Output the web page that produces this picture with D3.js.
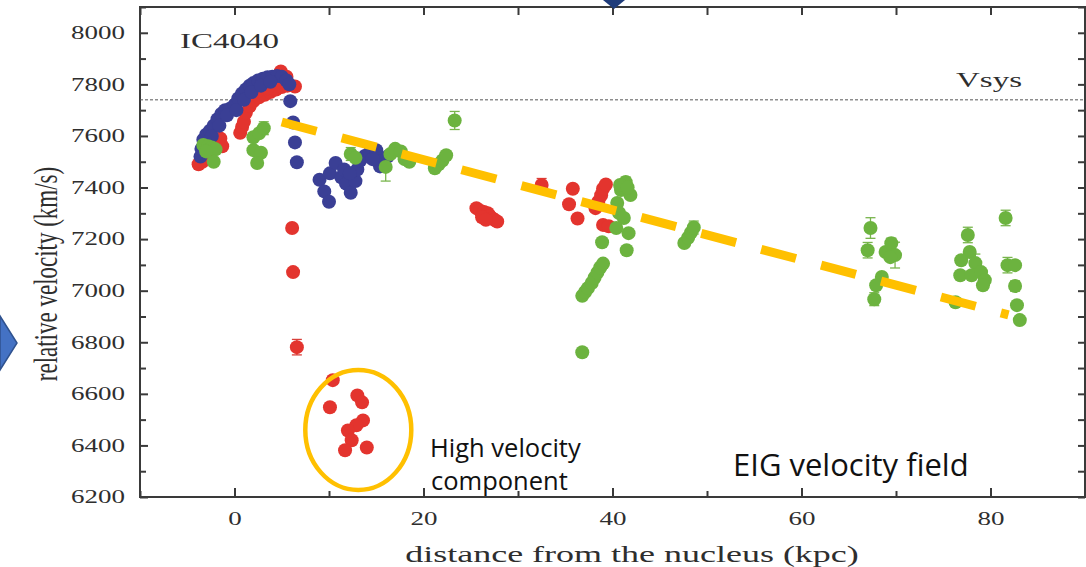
<!DOCTYPE html>
<html>
<head>
<meta charset="utf-8">
<script src="https://cdn.jsdelivr.net/npm/d3@7/dist/d3.min.js"></script>
<style>
  body { margin: 0; background: #ffffff; }
  svg { display: block; }
  .tick text { font-family: "Liberation Serif", serif; font-size: 18px; fill: #2e2e2e; }
  .tick line { stroke: #3a3a3a; stroke-width: 2; }
</style>
</head>
<body>
<div class="chart"></div>
<script>
// Data: [distance kpc, velocity km/s]
var blueData = [
  [-3.6, 7520], [-3.5, 7550], [-3.3, 7585], [-3.0, 7605], [-2.6, 7620], [-2.2, 7640],
  [-1.8, 7665], [-1.4, 7685], [-1.0, 7700], [-0.5, 7705], [0.0, 7720], [0.4, 7745],
  [0.8, 7765], [1.2, 7780], [1.6, 7795], [2.0, 7805], [2.5, 7815], [3.0, 7822],
  [3.5, 7828], [4.0, 7830], [4.5, 7832], [5.0, 7830], [5.5, 7815], [5.8, 7800],
  [-3.2, 7560], [-2.4, 7600], [-1.6, 7640], [-0.8, 7680], [0.2, 7700], [1.0, 7740],
  [1.8, 7770], [2.8, 7795], [3.8, 7810],
  [5.9, 7735], [6.2, 7652], [6.4, 7575], [6.6, 7498],
  [9.0, 7430], [9.5, 7385], [10.0, 7345], [10.1, 7455], [10.7, 7495], [11.3, 7440],
  [11.8, 7415], [12.3, 7380], [12.8, 7425], [13.0, 7470], [13.3, 7505], [13.8, 7522],
  [14.3, 7535], [15.0, 7545], [15.4, 7482], [15.8, 7505], [16.2, 7520], [11.6, 7470],
  [12.2, 7455], [14.6, 7510]
];

var redData = [
  [-3.8, 7490], [-3.4, 7500], [-3.0, 7515], [-2.6, 7535], [-2.3, 7555], [-1.9, 7575],
  [-1.5, 7590], [-1.3, 7560], [-2.8, 7570], [0.6, 7612], [0.8, 7635], [1.0, 7655],
  [1.2, 7690], [1.6, 7715], [2.0, 7735], [2.6, 7750], [3.2, 7760], [3.8, 7770],
  [4.4, 7780], [5.0, 7790], [5.6, 7795], [6.4, 7792], [4.9, 7850], [5.5, 7830],
  [2.5, 7775], [3.5, 7785],
  [6.1, 7243], [6.2, 7072], [6.6, 6781],
  [10.4, 6653], [10.1, 6548], [13.0, 6594], [13.5, 6567], [13.6, 6497], [12.9, 6478],
  [12.0, 6458], [12.4, 6420], [11.7, 6381], [14.0, 6392],
  [25.6, 7320], [26.0, 7310], [26.4, 7305], [26.8, 7300], [27.0, 7290], [27.3, 7280],
  [27.5, 7275], [27.8, 7268], [26.2, 7285], [26.6, 7275],
  [32.5, 7410],
  [35.8, 7395], [35.4, 7335], [36.3, 7280], [38.2, 7320], [38.5, 7345], [38.8, 7370],
  [39.0, 7395], [39.3, 7412], [39.0, 7255], [39.6, 7250]
];
var redErr = [
  [6.6, 6781, 30], [32.5, 7410, 25], [10.4, 6653, 15], [35.8, 7395, 15], [6.1, 7243, 12]
];

var greenData = [
  [-3.3, 7565], [-2.8, 7560], [-2.4, 7555], [-2.0, 7548], [-2.2, 7500], [-3.0, 7540],
  [2.0, 7595], [2.6, 7610], [3.1, 7630], [2.0, 7545], [2.8, 7535], [2.4, 7495],
  [12.3, 7530], [12.8, 7515], [16.0, 7480], [16.5, 7530], [17.0, 7550], [17.6, 7540],
  [18.0, 7510], [18.5, 7500], [21.2, 7475], [21.6, 7490], [22.0, 7505], [22.4, 7525],
  [23.3, 7660],
  [41.4, 7421], [40.9, 7390], [41.9, 7371], [40.5, 7340], [40.7, 7301], [41.2, 7282],
  [40.4, 7243], [41.7, 7223], [41.5, 7157], [38.9, 7188], [40.8, 7410], [41.6, 7400],
  [36.8, 6980], [37.1, 6995], [37.4, 7010], [37.8, 7030], [38.1, 7050], [38.4, 7070],
  [38.7, 7090], [39.0, 7105], [36.8, 6761],
  [47.6, 7185], [48.0, 7205], [48.3, 7225], [48.6, 7245],
  [67.3, 7243], [67.0, 7157], [68.5, 7053], [67.9, 7021], [67.7, 6967], [68.9, 7150],
  [69.5, 7184], [69.9, 7138], [69.4, 7130],
  [77.6, 7216], [77.8, 7150], [76.9, 7118], [78.4, 7107], [76.8, 7060], [78.0, 7060],
  [79.0, 7072], [79.4, 7041], [79.2, 7021], [76.3, 6955],
  [81.6, 7282], [81.8, 7099], [82.6, 7099], [82.6, 7018], [82.8, 6944], [83.1, 6886]
];
var greenErr = [
  [3.1, 7630, 25], [23.3, 7660, 35], [16.0, 7480, 55], [12.3, 7530, 25], [-2.4, 7555, 20],
  [48.6, 7245, 25], [41.4, 7421, 20], [67.3, 7243, 40], [67.0, 7157, 30], [67.7, 6967, 25],
  [69.9, 7138, 50], [69.5, 7184, 20], [77.6, 7216, 30], [78.4, 7107, 35], [81.6, 7282, 30],
  [81.8, 7099, 30], [82.6, 7018, 20], [76.3, 6955, 15]
];

var vsys = 7740;
var trendLine = [[5.0, 7654], [81.9, 6906]];
var yMajor = [6200, 6400, 6600, 6800, 7000, 7200, 7400, 7600, 7800, 8000];
var yMinor = [6300, 6500, 6700, 6900, 7100, 7300, 7500, 7700, 7900, 8100];
var xMajor = [0, 20, 40, 60, 80];
var xMinor = [-10, 10, 30, 50, 70, 90];

var svgWidth = 1086;
var svgHeight = 567;
var margin = { top: 7, right: 1, bottom: 70, left: 140 };
var width = svgWidth - margin.left - margin.right;
var height = svgHeight - margin.top - margin.bottom;
var stretch = 1.5; // the source picture is stretched sideways

var svg = d3.select(".chart")
  .append("svg")
  .attr("width", svgWidth)
  .attr("height", svgHeight);

svg.append("rect").attr("width", svgWidth).attr("height", svgHeight).attr("fill", "#ffffff");

var chartGroup = svg.append("g")
  .attr("transform", `translate(${margin.left}, ${margin.top})`);

var xScale = d3.scaleLinear().domain([-10, 90]).range([0, width]);
var yScale = d3.scaleLinear().domain([6200, 8100]).range([height, 0]);

// axes, ticks pointing inward
var leftAxis = d3.axisLeft(yScale).tickValues(yMajor).tickSize(-8).tickSizeOuter(0).tickPadding(10).tickFormat(d3.format("d"));
var leftMinor = d3.axisLeft(yScale).tickValues(yMinor).tickSize(-6).tickSizeOuter(0).tickFormat("");
var rightAxis = d3.axisRight(yScale).tickValues(yMajor.concat(yMinor)).tickSize(-7).tickSizeOuter(0).tickFormat("");
var bottomAxis = d3.axisBottom(xScale).tickValues(xMajor).tickSize(-9).tickSizeOuter(0).tickPadding(15).tickFormat(d3.format("d"));
var bottomMinor = d3.axisBottom(xScale).tickValues(xMinor).tickSize(-6).tickSizeOuter(0).tickFormat("");
var topAxis = d3.axisTop(xScale).tickValues(xMajor.concat(xMinor)).tickSize(-8).tickSizeOuter(0).tickFormat("");

chartGroup.append("g").call(leftAxis);
chartGroup.append("g").call(leftMinor);
chartGroup.append("g").attr("transform", `translate(${width}, 0)`).call(rightAxis);
chartGroup.append("g").attr("transform", `translate(0, ${height})`).call(bottomAxis);
chartGroup.append("g").attr("transform", `translate(0, ${height})`).call(bottomMinor);
chartGroup.append("g").call(topAxis);
chartGroup.selectAll(".domain").remove();
chartGroup.selectAll(".tick text").attr("transform", `scale(${stretch},1)`);

// frame
chartGroup.append("rect")
  .attr("width", width).attr("height", height)
  .attr("fill", "none").attr("stroke", "#3a3a3a").attr("stroke-width", 2);

// Vsys
chartGroup.append("line")
  .attr("x1", 0).attr("x2", width)
  .attr("y1", yScale(vsys)).attr("y2", yScale(vsys))
  .attr("stroke", "#555").attr("stroke-width", 1).attr("stroke-dasharray", "3,2");

function stretchedText(x, y, txt, size) {
  return svg.append("text")
    .attr("transform", `translate(${x}, ${y}) scale(${stretch},1)`)
    .style("font-family", "'Liberation Serif', serif")
    .style("font-size", size + "px")
    .attr("fill", "#2e2e2e")
    .text(txt);
}
stretchedText(180, 48, "IC4040", 22);
stretchedText(956, 87, "Vsys", 22);

// error bars
function drawErrors(data, color) {
  var g = chartGroup.append("g").attr("stroke", color).attr("stroke-width", 1.3);
  data.forEach(function (d) {
    var cx = xScale(d[0]);
    var y1 = yScale(d[1] + d[2]);
    var y2 = yScale(d[1] - d[2]);
    g.append("line").attr("x1", cx).attr("x2", cx).attr("y1", y1).attr("y2", y2);
    g.append("line").attr("x1", cx - 5).attr("x2", cx + 5).attr("y1", y1).attr("y2", y1);
    g.append("line").attr("x1", cx - 5).attr("x2", cx + 5).attr("y1", y2).attr("y2", y2);
  });
}
drawErrors(redErr, "#d9403a");
drawErrors(greenErr, "#78b54c");

function drawPoints(data, color) {
  chartGroup.append("g").selectAll("circle")
    .data(data)
    .enter()
    .append("circle")
    .attr("cx", d => xScale(d[0]))
    .attr("cy", d => yScale(d[1]))
    .attr("r", 7)
    .attr("fill", color);
}
drawPoints(redData, "#e3342e");
drawPoints(blueData, "#3a3f95");
drawPoints(greenData, "#6cb33f");

// orange dashed trend
chartGroup.append("line")
  .attr("x1", xScale(trendLine[0][0])).attr("y1", yScale(trendLine[0][1]))
  .attr("x2", xScale(trendLine[1][0])).attr("y2", yScale(trendLine[1][1]))
  .attr("stroke", "#ffc000").attr("stroke-width", 9).attr("stroke-dasharray", "36,26");

// ellipse around high velocity component
chartGroup.append("ellipse")
  .attr("cx", xScale(13.1)).attr("cy", yScale(6460))
  .attr("rx", 53).attr("ry", 60)
  .attr("fill", "none").attr("stroke", "#ffc000").attr("stroke-width", 4.5);

// axis labels
svg.append("text")
  .attr("transform", `translate(632, 562) scale(${stretch},1)`)
  .style("text-anchor", "middle")
  .style("font-family", "'Liberation Serif', serif")
  .style("font-size", "24px")
  .attr("fill", "#2e2e2e")
  .text("distance from the nucleus (kpc)");

svg.append("text")
  .attr("transform", `translate(45, 274) scale(${stretch},1) rotate(-90)`)
  .attr("dy", "0.35em")
  .style("text-anchor", "middle")
  .style("font-family", "'Liberation Serif', serif")
  .style("font-size", "23px")
  .attr("fill", "#2e2e2e")
  .text("relative velocity (km/s)");

// slide annotations
var note = svg.append("text")
  .style("font-family", "'Open Sans', sans-serif")
  .style("font-size", "25.5px")
  .attr("fill", "#111");
note.append("tspan").attr("x", 430).attr("y", 457).text("High velocity");
note.append("tspan").attr("x", 431).attr("y", 490).text("component");

svg.append("text")
  .attr("x", 733).attr("y", 476)
  .style("font-family", "'Open Sans', sans-serif")
  .style("font-size", "31px")
  .attr("fill", "#111")
  .text("EIG velocity field");

// slide shapes cut by the frame
svg.append("polygon")
  .attr("points", "0,316 17,343 0,370")
  .attr("fill", "#4472c4").attr("stroke", "#2f528f").attr("stroke-width", 1.5);
svg.append("polygon")
  .attr("points", "603,0 625,0 614,9")
  .attr("fill", "#1f3c7a");
</script>
</body>
</html>
